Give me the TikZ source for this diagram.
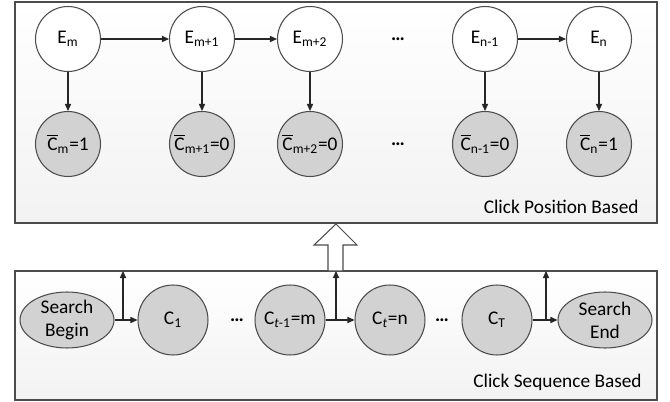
\documentclass[tikz,border=0pt]{standalone}
\usepackage{fontspec}
\setmainfont{Carlito}
\usetikzlibrary{arrows.meta, shapes.geometric}
\newcommand{\cbar}{$\overline{\mbox{C}}$}

\begin{document}
\begin{tikzpicture}[x = .02cm, y = -.02cm, font = \fontsize{11}{13}\selectfont,
        line width = .6pt,
        evt/.style = {circle, draw = gray!60!black, fill = white, minimum size = 1.3cm, inner sep = 0pt},
        obs/.style = {circle, draw = gray!60!black, fill = gray!35, minimum size = 1.3cm, inner sep = 0pt},
        clk/.style = {circle, draw = gray!60!black, fill = gray!35, minimum size = 1.4cm, inner sep = 0pt},
        term/.style = {ellipse, draw = gray!60!black, fill = gray!35, minimum width = 1.88cm,
                       minimum height = 1.12cm, inner sep = 0pt, align = center},
        link/.style = {draw = gray!30!black, -{Triangle[length = 4pt, width = 3.5pt]}}]
        \useasboundingbox (0,0) rectangle (670,402);
        % the two frames
        \draw[gray!60!black, top color = white, bottom color = gray!10] (15,2) rectangle (657,223);
        \draw[gray!60!black, top color = white, bottom color = gray!10] (15,271) rectangle (657,400);
        \node[anchor = east] (posname) at (645,207) {Click Position Based};
        \node[anchor = east] (seqname) at (648,382) {Click Sequence Based};
        \draw[gray!60!black, fill = white] (328,271) -- (328,245) -- (314,245) --
                     (336,224) -- (357,245) -- (343,245) -- (343,271) -- cycle;

        % click position based
        \node[evt] (em) at (68,39) {E\textsubscript{m}};
        \node[evt] (em1) at (202,39) {E\textsubscript{m+1}};
        \node[evt] (em2) at (310,39) {E\textsubscript{m+2}};
        \node (tdots) at (398,39) {\textbf{…}};
        \node[evt] (en1) at (485,39) {E\textsubscript{n-1}};
        \node[evt] (en) at (599,39) {E\textsubscript{n}};
        \node[obs] (cm) at (68,144) {\cbar\textsubscript{m}=1};
        \node[obs] (cm1) at (202,144) {\cbar\textsubscript{m+1}=0};
        \node[obs] (cm2) at (310,144) {\cbar\textsubscript{m+2}=0};
        \node (bdots) at (398,144) {\textbf{…}};
        \node[obs] (cn1) at (485,144) {\cbar\textsubscript{n-1}=0};
        \node[obs] (cn) at (599,144) {\cbar\textsubscript{n}=1};
        \draw[link] (em) -- (em1);
        \draw[link] (em1) -- (em2);
        \draw[link] (en1) -- (en);
        \draw[link] (em) -- (cm);
        \draw[link] (em1) -- (cm1);
        \draw[link] (em2) -- (cm2);
        \draw[link] (en1) -- (cn1);
        \draw[link] (en) -- (cn);

        % click sequence based
        \node[term] (sb) at (67,320) {Search\\Begin};
        \node[clk] (c1) at (173,320) {C\textsubscript{1}};
        \node (sdots1) at (237,320) {\textbf{…}};
        \node[clk] (ct1) at (290,320) {C\textsubscript{\textit{t}-1}=m};
        \node[clk] (ct) at (390,320) {C\textsubscript{\textit{t}}=n};
        \node (sdots2) at (442,320) {\textbf{…}};
        \node[clk] (cT) at (497,320) {C\textsubscript{T}};
        \node[term] (se) at (605,320) {Search\\End};
        \draw[link] (sb) -- (c1);
        \draw[link] (ct1) -- (ct);
        \draw[link] (cT) -- (se);
        \coordinate (up1) at (123,320);
        \coordinate (up2) at (336,320);
        \coordinate (up3) at (546,320);
        \foreach \p in {up1, up2, up3}
          \draw[link] (\p) -- ++(0,-49);
      \end{tikzpicture}
\end{document}
